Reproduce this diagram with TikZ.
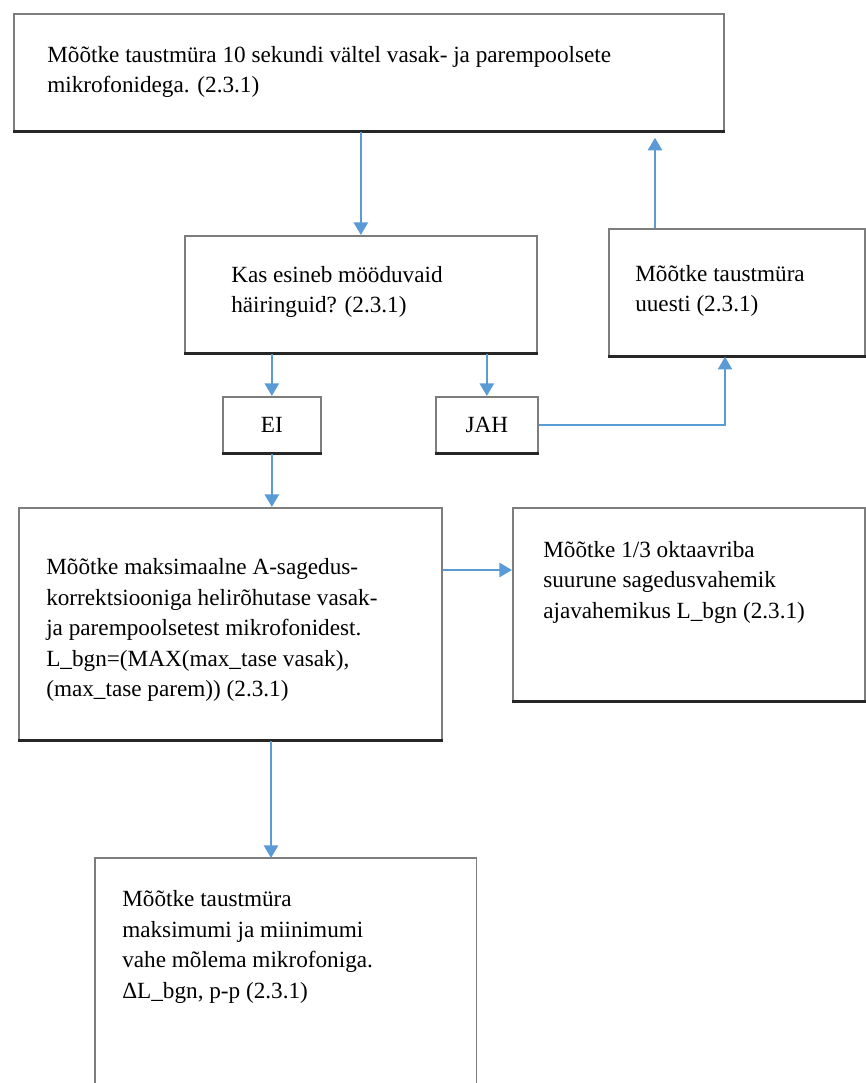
\documentclass[tikz,border=0pt]{standalone}
\usepackage{fontspec}
\setmainfont{Liberation Serif}
\usetikzlibrary{arrows.meta}
\definecolor{arrowblue}{RGB}{91,155,213}
\definecolor{boxgray}{RGB}{125,125,125}
\begin{document}
\begin{tikzpicture}[x=0.025cm,y=-0.025cm,
  box/.style={draw=boxgray, line width=1.2pt, rectangle, inner sep=0pt, anchor=north west},
  openbox/.style={rectangle, inner sep=0pt, anchor=north west},
  txt/.style={anchor=west, align=left, inner sep=0pt, font=\fontsize{16.5}{21.7}\selectfont},
  lbl/.style={font=\fontsize{16.5}{21.7}\selectfont},
  arr/.style={draw=arrowblue, line width=1.9pt, -{Triangle[width=10pt,length=9pt]}},
  shade/.style={draw=black!85, line width=1.8pt}]
\useasboundingbox (0,0) rectangle (866,1083);

% boxes
\node[box, minimum width=710*0.025cm, minimum height=117*0.025cm] (b1) at (13,13) {};
\node[box, minimum width=352*0.025cm, minimum height=117*0.025cm] (b2) at (184,235) {};
\node[box, minimum width=256*0.025cm, minimum height=127*0.025cm] (b3) at (608,228) {};
\node[box, lbl, minimum width=98*0.025cm, minimum height=56*0.025cm] (ei) at (222,396) {EI};
\node[box, lbl, minimum width=102*0.025cm, minimum height=56*0.025cm] (jah) at (435,396) {JAH};
\node[box, minimum width=423*0.025cm, minimum height=232*0.025cm] (b4) at (18,507) {};
\node[box, minimum width=352*0.025cm, minimum height=193*0.025cm] (b5) at (512,507) {};
\node[openbox, minimum width=381*0.025cm, minimum height=240*0.025cm] (b6) at (95,858) {};
\draw[draw=boxgray, line width=1.2pt] (b6.south west) -- (b6.north west) -- (b6.north east) -- (b6.south east);

% bottom shading lines
\foreach \b in {b1,b2,b3,ei,jah,b4,b5} \draw[shade] (\b.south west) -- (\b.south east);

% texts
\node[txt] (t1) at (47,72) {Mõõtke taustmüra 10 sekundi vältel vasak- ja parempoolsete\\mikrofonidega. (2.3.1)};
\node[txt] (t2) at (231,292) {Kas esineb mööduvaid\\häiringuid? (2.3.1)};
\node[txt] (t3) at (635,291) {Mõõtke taustmüra\\uuesti (2.3.1)};
\node[txt] (t4) at (46,630) {Mõõtke maksimaalne A-sagedus-\\korrektsiooniga helirõhutase vasak-\\ja parempoolsetest mikrofonidest.\\L\_bgn=(MAX(max\_tase vasak),\\(max\_tase parem)) (2.3.1)};
\node[txt] (t5) at (543,582) {Mõõtke 1/3 oktaavriba\\suurune sagedusvahemik\\ajavahemikus L\_bgn (2.3.1)};
\node[txt] (t6) at (122,947) {Mõõtke taustmüra\\maksimumi ja miinimumi\\vahe mõlema mikrofoniga.\\ΔL\_bgn, p-p (2.3.1)};

% connectors
\coordinate (upx) at (655,0);
\coordinate (jx) at (725,0);
\coordinate (ay) at (0,570);
\coordinate (dx) at (271,0);
\draw[arr] (b1.south -| b2.north) -- (b2.north);
\draw[arr, shorten >=0.15cm] (b3.north -| upx) -- (b1.south -| upx);
\draw[arr] (b2.south -| ei.north) -- (ei.north);
\draw[arr] (b2.south -| jah.north) -- (jah.north);
\draw[arr, line width=1.2pt] (jah.east) -| (b3.south -| jx);
\draw[arr] (ei.south) -- (ei.south |- b4.north);
\draw[arr] (b4.east |- ay) -- (b5.west |- ay);
\draw[arr] (b4.south -| dx) -- (b6.north -| dx);
\end{tikzpicture}
\end{document}
